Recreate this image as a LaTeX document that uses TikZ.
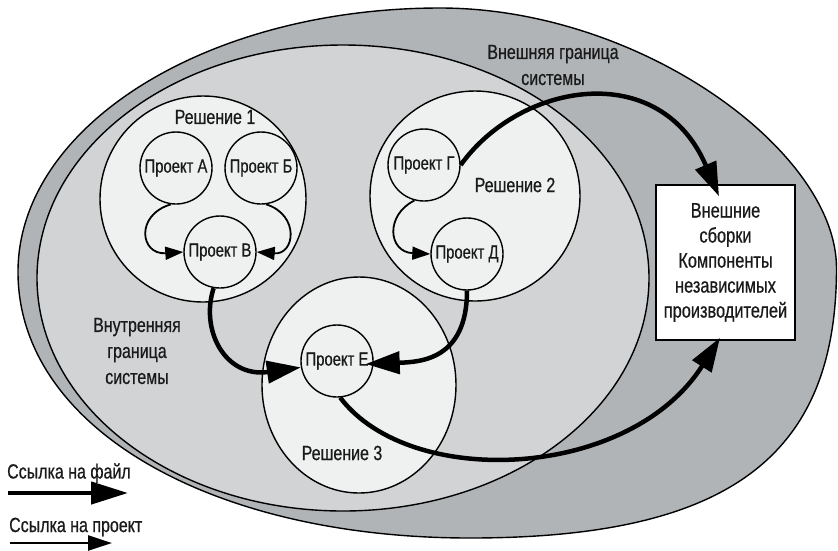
\documentclass[tikz,border=0pt]{standalone}
\usepackage{fontspec}
\newfontfamily\condensed{Liberation Sans}[FakeStretch=0.78,FakeBold=0.6]
\usetikzlibrary{arrows.meta,shapes.geometric}
\definecolor{outerring}{HTML}{B1B4B6}
\definecolor{innerzone}{HTML}{D2D3D5}
\definecolor{solfill}{HTML}{EFF0F0}
\definecolor{ink}{HTML}{1A1A1A}
\begin{document}
\begin{tikzpicture}[x=1pt,y=-1pt,
  boundary/.style={draw=black, line width=1.4pt},
  solution/.style={circle, draw=black, line width=1.4pt, fill=solfill, inner sep=0pt},
  project/.style={circle, draw=black, line width=1.4pt, fill=solfill, minimum size=72pt,
    inner sep=0pt, text=ink, font={\condensed\fontsize{19}{22}\selectfont}},
  lbl/.style={text=ink, align=center, inner sep=0pt, font={\condensed\fontsize{20.5}{26}\selectfont}},
  extbox/.style={rectangle, draw=black, line width=1.4pt, fill=white, minimum width=139pt,
    minimum height=155pt, inner sep=0pt, text=ink, align=center,
    font={\condensed\fontsize{21}{25}\selectfont}},
  fileref/.style={line width=4.5pt, -{Triangle[length=34pt,width=22pt]}},
  projref/.style={line width=1.8pt, -{Triangle[length=18pt,width=13pt]}},
]
\useasboundingbox (0,0) rectangle (838,550);

% outer system boundary
\draw[boundary, fill=outerring] (18,272) .. controls (18,126) and (207,8) .. (440,8)
  .. controls (640,8) and (836.5,151) .. (836.5,268)
  .. controls (836.5,457) and (728,538) .. (470,538)
  .. controls (208,538) and (18,426) .. (18,272) -- cycle;

% inner system boundary
\draw[boundary, fill=innerzone] (343,278) ellipse [x radius=306, y radius=233];

% solutions
\node[solution, minimum size=206pt] (s1) at (203,199) {};
\node[solution, minimum size=210pt] (s2) at (475,196) {};
\node[solution, ellipse, minimum width=194pt, minimum height=216pt] (s3) at (359,385) {};

% projects
\node[project] (pA) at (176,168) {Проект А};
\node[project] (pB) at (261,168) {Проект Б};
\node[project] (pV) at (220,252) {Проект В};
\node[project] (pG) at (424,165) {Проект Г};
\node[project] (pD) at (467,254) {Проект Д};
\node[project] (pE) at (337,361) {Проект Е};

% external assemblies
\node[extbox] (ext) at (725.5,262.5) {Внешние\\сборки\\Компоненты\\независимых\\производителей};

% labels
\node[lbl] (l1) at (215,117) {Решение 1};
\node[lbl] (l2) at (515,185) {Решение 2};
\node[lbl] (l3) at (342,453) {Решение 3};
\node[lbl] (louter) at (553,65) {Внешняя граница\\системы};
\node[lbl] (linner) at (137,351) {Внутренняя\\граница\\системы};

% project references
\draw[projref] (pA.-98) .. controls (135,215) and (140,255) .. (pV.west);
\draw[projref] (pB.-82) .. controls (300,215) and (295,255) .. (pV.east);
\draw[projref] (pG.-105) .. controls (385,215) and (388,252) .. (pD.west);

% file references
\draw[fileref] (pG.east) .. controls (520,82) and (660,58) .. ([xshift=-6.5pt,yshift=-12pt]ext.north);
\draw[fileref] (pV.-100) .. controls (200,330) and (225,378) .. (pE.190);
\draw[fileref] (pD.south) .. controls (467,360) and (420,362) .. ([xshift=-8pt,yshift=-3pt]pE.east);
\draw[fileref] (pE.-85) .. controls (410,490) and (630,480) .. ([xshift=-5.5pt,yshift=3pt]ext.south);

% legend
\node[lbl, anchor=west] (kf) at (7,473) {Ссылка на файл};
\coordinate (kf0) at (8,493);
\coordinate (kf1) at (128,493);
\draw[fileref, -{Triangle[length=37pt,width=22pt]}] (kf0) -- (kf1);
\node[lbl, anchor=west] (kp) at (9,527) {Ссылка на проект};
\coordinate (kp0) at (10,543);
\coordinate (kp1) at (112,543);
\draw[projref, line width=2.5pt, -{Triangle[length=24pt,width=15pt]}] (kp0) -- (kp1);
\end{tikzpicture}
\end{document}
